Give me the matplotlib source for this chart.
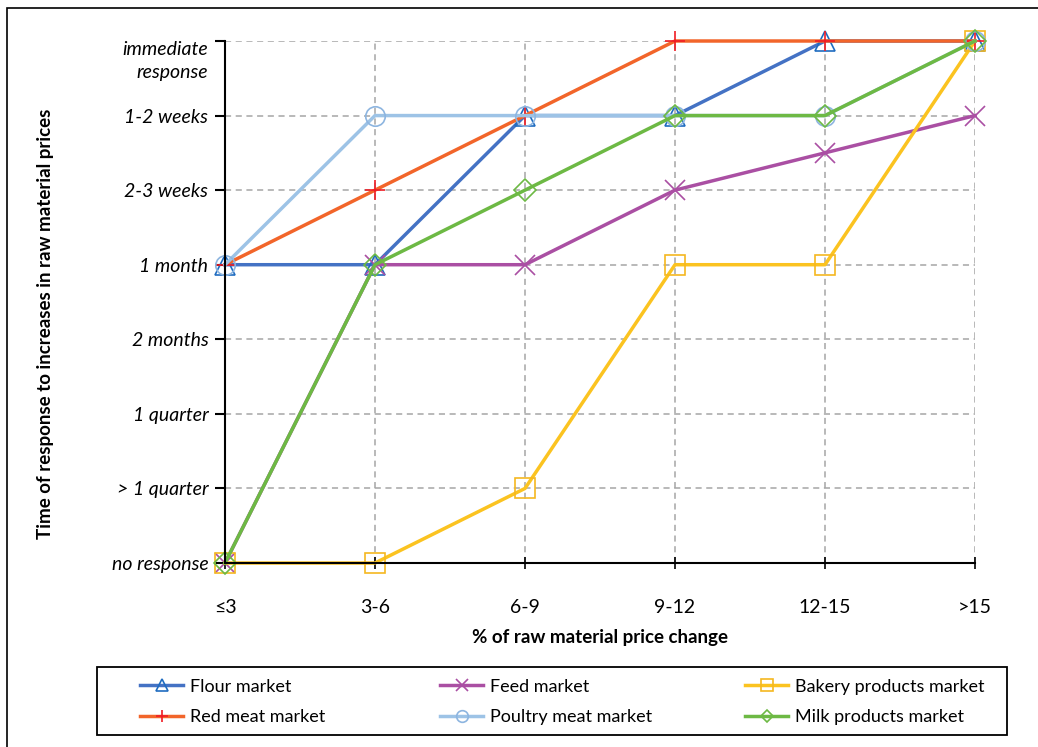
import matplotlib
matplotlib.use("Agg")
import matplotlib.pyplot as plt
from matplotlib.transforms import ScaledTranslation
from matplotlib.patches import Rectangle

plt.rcParams['font.family'] = ['Lato', 'DejaVu Sans']

categories = ["≤3", "3-6", "6-9", "9-12", "12-15", ">15"]
levels = ["no response", "> 1 quarter", "1 quarter", "2 months", "1 month",
          "2-3 weeks", "1-2 weeks", "immediate\nresponse"]

flour = [4, 4, 6, 6, 7, 7]
feed = [0, 4, 4, 5, 5.5, 6]
bakery = [0, 0, 1, 4, 4, 7]
red_meat = [4, 5, 6, 7, 7, 7]
poultry = [4, 6, 6, 6, 6, 7]
milk = [0, 4, 5, 6, 6, 7]

series = [
    ("Flour market", flour, "#4472C4", "^", "#1F6CC0"),
    ("Feed market", feed, "#AA4FA3", "x", "#AA4FA3"),
    ("Bakery products market", bakery, "#FBC320", "s", "#F5B820"),
    ("Red meat market", red_meat, "#F2652A", "+", "#F01C24"),
    ("Poultry meat market", poultry, "#9DC3E6", "o", "#8DB5E0"),
    ("Milk products market", milk, "#6DB944", "D", "#6DB944"),
]

fig = plt.figure(figsize=(10.38, 7.47), dpi=100)
ax = fig.add_axes([225/1038, 1-563/747, 750/1038, 522/747])

x = list(range(len(categories)))
handles = {}
for name, vals, lc, mk, mc in series:
    ms = 14
    if mk == "D":
        ms = 11
    if mk in ("x", "+"):
        ms = 15
    h, = ax.plot(x, vals, color=lc, lw=2.5, marker=mk, markersize=ms,
                 markerfacecolor="none", markeredgecolor=mc, markeredgewidth=1.2,
                 clip_on=False, label=name)
    handles[name] = h

ax.set_xlim(0, 5)
ax.set_ylim(0, 7)
ax.set_xticks(x)
ax.set_xticklabels(categories, fontsize=14)
ax.set_yticks(range(len(levels)))
ax.set_yticklabels(levels, fontsize=14, style="italic")
for lab in ax.get_yticklabels():
    if "\n" in lab.get_text():
        lab.set_verticalalignment("top")
        lab.set_transform(lab.get_transform() + ScaledTranslation(0, 10/72, fig.dpi_scale_trans))
        lab.set_linespacing(1.45)

ax.grid(True, color="#A6A6A6", linestyle=(0, (4, 3)), linewidth=1.1)
ax.set_axisbelow(True)
for s in ("top", "right"):
    ax.spines[s].set_visible(False)
ax.spines["left"].set_color("black")
ax.spines["bottom"].set_color("black")
ax.spines["left"].set_linewidth(1.5)
ax.spines["bottom"].set_linewidth(1.5)
ax.tick_params(axis="y", direction="out", length=7, width=1.5, pad=5)
ax.tick_params(axis="x", direction="inout", length=8, width=1.2, pad=22)

fig.text(600/1038, 1-637/747, "% of raw material price change", ha="center", va="center",
         fontsize=13.5, fontweight="bold")
fig.text(46/1038, 1-324/747, "Time of response to increases in raw material prices",
         ha="center", va="center", rotation=90, fontsize=13.5, fontweight="bold")

# legend frame
fig.patches.append(Rectangle((97/1038, 1-735/747), 910/1038, 68/747, transform=fig.transFigure,
                             fill=False, edgecolor="black", linewidth=1.3))
cols = [("Flour market", "Red meat market", 140),
        ("Feed market", "Poultry meat market", 440),
        ("Bakery products market", "Milk products market", 745)]
for a, b, xpos in cols:
    lg = fig.legend([handles[a], handles[b]], [a, b], loc="center left",
                    bbox_to_anchor=(xpos/1038, 1-702/747), frameon=False,
                    fontsize=13, markerscale=0.6, handlelength=2.4, handletextpad=0.35,
                    labelspacing=0.8, borderaxespad=0, borderpad=0)

fig.patches.append(Rectangle((7/1038, -0.05), 1.1, 1-8/747+0.05, transform=fig.transFigure,
                             fill=False, edgecolor="black", linewidth=1.2))

fig.savefig("out.png", dpi=100)
